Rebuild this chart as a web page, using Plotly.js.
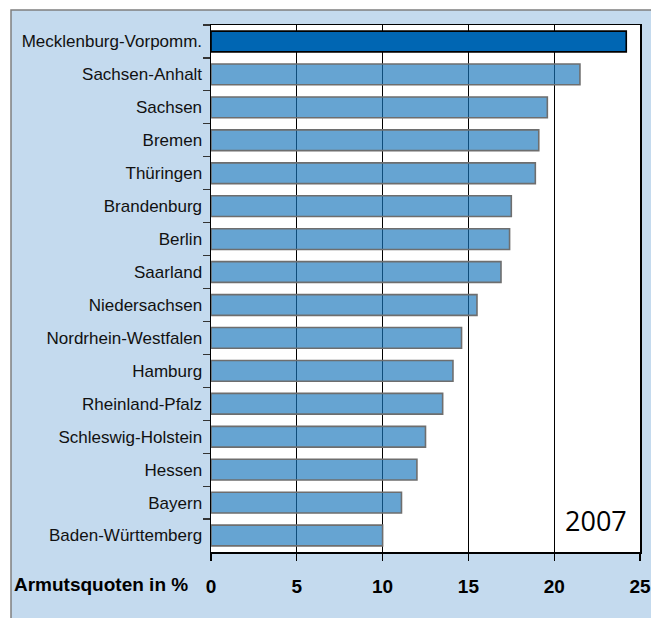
<!DOCTYPE html>
<html>
<head>
<meta charset="utf-8">
<script src="https://cdn.plot.ly/plotly-3.0.1.min.js"></script>
<style>html,body{margin:0;padding:0;background:#fff;}#chart{width:651px;height:618px;}</style>
</head>
<body>
<div id="chart"></div>
<script>
var categories = ["Mecklenburg-Vorpomm.", "Sachsen-Anhalt", "Sachsen", "Bremen", "Thüringen", "Brandenburg", "Berlin", "Saarland", "Niedersachsen", "Nordrhein-Westfalen", "Hamburg", "Rheinland-Pfalz", "Schleswig-Holstein", "Hessen", "Bayern", "Baden-Württemberg"];
var values = [24.2, 21.5, 19.6, 19.1, 18.9, 17.5, 17.4, 16.9, 15.5, 14.6, 14.1, 13.5, 12.5, 12.0, 11.1, 10.0];
var xTickVals = [0, 5, 10, 15, 20, 25];
var axisLabel = "Armutsquoten in %";
var yearLabel = "2007";

var fillColors = categories.map(function(c, i){ return i === 0 ? "#0066B3" : "rgba(23,117,186,0.66)"; });
var lineColors = categories.map(function(c, i){ return i === 0 ? "#000000" : "#6E6E6E"; });

var trace = {
  type: "bar",
  orientation: "h",
  y: categories,
  x: values,
  marker: { color: fillColors, line: { color: lineColors, width: 1.6 } },
  hoverinfo: "skip"
};

// paper coordinate helpers (plot area: x 211..640, y 25..552)
function px(xp){ return (xp - 211) / 429; }
function py(yp){ return (552 - yp) / 527; }

var layout = {
  width: 651, height: 618,
  margin: { l: 211, r: 11, t: 25, b: 66, pad: 0 },
  paper_bgcolor: "#C4DAEE",
  plot_bgcolor: "#FFFFFF",
  showlegend: false,
  bargap: 0.37,
  xaxis: {
    range: [0, 25], tickvals: xTickVals, ticktext: xTickVals.map(String),
    showgrid: true, gridcolor: "#000000", gridwidth: 1,
    zeroline: false,
    showline: true, mirror: true, linecolor: "#000000", linewidth: 1.5,
    ticks: "outside", ticklen: 7, tickcolor: "#000000", tickwidth: 1.2,
    ticklabelstandoff: 10,
    tickfont: { family: "Liberation Sans, Arial, sans-serif", size: 19, color: "#000000", weight: "bold" },
    automargin: false, fixedrange: true
  },
  yaxis: {
    type: "category", autorange: "reversed",
    showgrid: false, zeroline: false,
    showline: true, mirror: true, linecolor: "#000000", linewidth: 1.5,
    ticks: "outside", tickson: "boundaries", ticklen: 7, tickcolor: "#333333", tickwidth: 1.2,
    ticklabelstandoff: 4,
    tickfont: { family: "Liberation Sans, Arial, sans-serif", size: 17, color: "#111111" },
    automargin: false, fixedrange: true
  },
  shapes: [
    { type: "rect", xref: "paper", yref: "paper", x0: px(-20), x1: px(680), y0: py(10), y1: py(-20), fillcolor: "#FFFFFF", line: { width: 0 }, layer: "above" },
    { type: "rect", xref: "paper", yref: "paper", x0: px(-20), x1: px(11), y0: py(640), y1: py(10), fillcolor: "#FFFFFF", line: { width: 0 }, layer: "above" },
    { type: "path", xref: "paper", yref: "paper",
      path: "M " + px(11) + "," + py(640) + " L " + px(11) + "," + py(10) + " L " + px(680) + "," + py(10),
      line: { color: "#7F7F7F", width: 1.5 }, layer: "above" }
  ],
  annotations: [
    { text: axisLabel, xref: "paper", yref: "paper", x: px(190), y: py(584), xanchor: "right", yanchor: "middle", showarrow: false,
      font: { family: "Liberation Sans, Arial, sans-serif", size: 19, color: "#000000", weight: "bold" } },
    { text: yearLabel, xref: "paper", yref: "paper", x: px(596), y: py(520), xanchor: "center", yanchor: "middle", showarrow: false,
      font: { family: "Open Sans, sans-serif", size: 27, color: "#000000" } }
  ]
};

Plotly.newPlot("chart", [trace], layout, { displayModeBar: false, staticPlot: true });
</script>
</body>
</html>
